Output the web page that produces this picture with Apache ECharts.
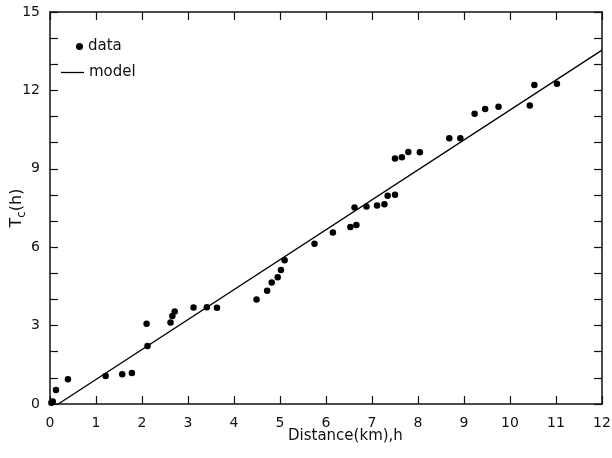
<!DOCTYPE html>
<html>
<head>
<meta charset="utf-8">
<script src="https://cdn.jsdelivr.net/npm/echarts@6/dist/echarts.min.js"></script>
<style>
  html, body { margin: 0; padding: 0; background: #fff; }
  #main { width: 612px; height: 458px; }
</style>
</head>
<body>
<div id="main"></div>
<script>
// measured points (distance km, time h)
var dataX = [0.03, 0.06, 0.13, 0.39, 1.21, 1.57, 1.78, 2.10, 2.12, 2.62, 2.66, 2.71, 3.12, 3.41, 3.63,
  4.49, 4.72, 4.82, 4.95, 5.02, 5.10, 5.75, 6.15, 6.53, 6.66, 6.62, 6.88, 7.11, 7.27, 7.34, 7.50,
  7.50, 7.65, 7.79, 8.04, 8.68, 8.92, 9.23, 9.46, 9.75, 10.43, 10.53, 11.02];
var dataY = [0.05, 0.10, 0.54, 0.95, 1.07, 1.14, 1.19, 3.07, 2.22, 3.12, 3.37, 3.54, 3.69, 3.70, 3.68,
  4.00, 4.33, 4.65, 4.85, 5.13, 5.50, 6.13, 6.56, 6.77, 6.85, 7.52, 7.56, 7.60, 7.64, 7.97, 8.01,
  9.39, 9.44, 9.64, 9.63, 10.17, 10.17, 11.11, 11.29, 11.37, 11.42, 12.21, 12.25];

// model line end points
var modelX = [0.18, 12];
var modelY = [0, 13.54];

var xTicks = [0, 12, 1];
var yTicks = [0, 15, 1];

var chart = echarts.init(document.getElementById("main"));

var fontFamily = "DejaVu Sans";
var axisColor = "#111";

var pts = dataX.map(function (x, i) { return [x, dataY[i]]; });
var model = modelX.map(function (x, i) { return [x, modelY[i]]; });

var option = {
  animation: false,
  backgroundColor: "#fff",
  grid: {
    left: 50,
    right: 10,
    top: 12,
    bottom: 54,
    containLabel: false,
    outerBoundsMode: "none"
  },
  legend: [
    {
      data: [{ name: "data", icon: "circle" }],
      left: 76,
      top: 39,
      padding: 0,
      itemWidth: 7,
      itemHeight: 7,
      textStyle: { fontFamily: fontFamily, fontSize: 15, color: "#111" }
    },
    {
      data: [{ name: "model", icon: "rect" }],
      left: 61,
      top: 65,
      padding: 0,
      itemWidth: 23,
      itemHeight: 1.3,
      textStyle: { fontFamily: fontFamily, fontSize: 15, color: "#111" }
    }
  ],
  xAxis: [
    {
      type: "value",
      min: xTicks[0],
      max: xTicks[1],
      interval: xTicks[2],
      position: "bottom",
      splitLine: { show: false },
      axisLine: { onZero: false, lineStyle: { color: axisColor, width: 1.5 } },
      axisTick: { inside: true, length: 8, lineStyle: { color: axisColor, width: 1.2 } },
      axisLabel: { fontFamily: fontFamily, fontSize: 14, color: "#111", margin: 12 }
    },
    {
      type: "value",
      min: xTicks[0],
      max: xTicks[1],
      interval: xTicks[2],
      position: "top",
      splitLine: { show: false },
      axisLine: { onZero: false, lineStyle: { color: axisColor, width: 1.5 } },
      axisTick: { inside: true, length: 8, lineStyle: { color: axisColor, width: 1.2 } },
      axisLabel: { show: false }
    }
  ],
  yAxis: [
    {
      type: "value",
      min: yTicks[0],
      max: yTicks[1],
      interval: yTicks[2],
      position: "left",
      name: "{t|T}{s|c}{t|(h)}",
      nameLocation: "middle",
      nameGap: 22,
      nameMoveOverlap: false,
      nameTextStyle: {
        rich: {
          t: { fontFamily: fontFamily, fontSize: 16, color: "#111", lineHeight: 22 },
          s: { fontFamily: fontFamily, fontSize: 12, color: "#111", lineHeight: 22, verticalAlign: "bottom", padding: [8, 0, 0, 0] }
        }
      },
      splitLine: { show: false },
      axisLine: { onZero: false, lineStyle: { color: axisColor, width: 1.5 } },
      axisTick: { inside: true, length: 8, lineStyle: { color: axisColor, width: 1.2 } },
      axisLabel: {
        fontFamily: fontFamily,
        fontSize: 14,
        color: "#111",
        margin: 10,
        formatter: function (v) { return v % 3 === 0 ? String(v) : ""; }
      }
    },
    {
      type: "value",
      min: yTicks[0],
      max: yTicks[1],
      interval: yTicks[2],
      position: "right",
      splitLine: { show: false },
      axisLine: { onZero: false, lineStyle: { color: axisColor, width: 1.5 } },
      axisTick: { inside: true, length: 8, lineStyle: { color: axisColor, width: 1.2 } },
      axisLabel: { show: false }
    }
  ],
  graphic: [
    {
      type: "text",
      left: 288,
      top: 429,
      style: {
        text: "Distance(km),h",
        fontFamily: fontFamily,
        fontSize: 15,
        fill: "#111"
      }
    }
  ],
  series: [
    {
      name: "data",
      type: "scatter",
      data: pts,
      symbol: "circle",
      symbolSize: 6.5,
      itemStyle: { color: "#000", opacity: 1 }
    },
    {
      name: "model",
      type: "line",
      data: model,
      showSymbol: false,
      symbol: "none",
      lineStyle: { color: "#000", width: 1.3 },
      itemStyle: { color: "#000" }
    }
  ]
};

chart.setOption(option);
</script>
</body>
</html>
